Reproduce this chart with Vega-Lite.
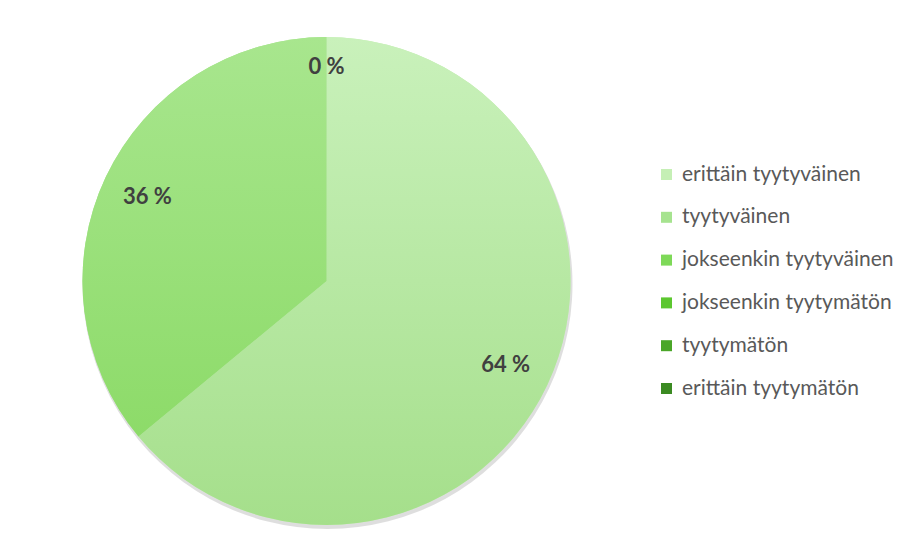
{
  "$schema": "https://vega.github.io/schema/vega-lite/v6.json",
  "width": 489,
  "height": 488,
  "autosize": {"type": "none"},
  "padding": {"left": 82, "top": 37, "right": 330, "bottom": 21},
  "background": "#ffffff",
  "config": {"view": {"stroke": null}},
  "data": {
    "values": [
      {"i": 1, "cat": "erittäin tyytyväinen", "v": 64, "lbl": "64 %"},
      {"i": 2, "cat": "tyytyväinen", "v": 36, "lbl": "36 %"},
      {"i": 3, "cat": "jokseenkin tyytyväinen", "v": 0, "lbl": "0 %"},
      {"i": 4, "cat": "jokseenkin tyytymätön", "v": 0, "lbl": "0 %"},
      {"i": 5, "cat": "tyytymätön", "v": 0, "lbl": "0 %"},
      {"i": 6, "cat": "erittäin tyytymätön", "v": 0, "lbl": "0 %"}
    ]
  },
  "encoding": {
    "theta": {"field": "v", "type": "quantitative", "stack": true},
    "order": {"field": "i", "type": "quantitative"}
  },
  "layer": [
    {
      "mark": {"type": "arc", "outerRadius": 245, "fill": "#000000", "fillOpacity": 0.13, "yOffset": 3, "xOffset": 1}
    },
    {
      "mark": {"type": "arc", "outerRadius": 244},
      "encoding": {
        "color": {
          "field": "cat",
          "type": "nominal",
          "sort": null,
          "scale": {
            "domain": ["erittäin tyytyväinen", "tyytyväinen", "jokseenkin tyytyväinen", "jokseenkin tyytymätön", "tyytymätön", "erittäin tyytymätön"],
            "range": ["#c5efb5", "#a6e38f", "#7ed958", "#5cc72f", "#4aa628", "#3b8a22"]
          },
          "legend": {
            "title": null,
            "orient": "none",
            "legendX": 574,
            "legendY": 127,
            "symbolType": "square",
            "symbolSize": 121,
            "symbolStrokeWidth": 0,
            "labelFont": "Lato",
            "labelFontSize": 21,
            "labelColor": "#595959",
            "labelOffset": 5,
            "rowPadding": 20.8,
            "labelLimit": 400
          }
        }
      }
    },
    {
      "mark": {"type": "arc", "outerRadius": 244},
      "encoding": {
        "fill": {
          "condition": {
            "test": "datum.i === 1",
            "value": {"gradient": "linear", "x1": 0, "y1": 0, "x2": 0, "y2": 1, "stops": [{"offset": 0, "color": "#c9f1bb"}, {"offset": 1, "color": "#a5df8b"}]}
          },
          "value": {"gradient": "linear", "x1": 0, "y1": 0, "x2": 0, "y2": 1, "stops": [{"offset": 0, "color": "#a8e68e"}, {"offset": 1, "color": "#8ddb69"}]}
        }
      }
    },
    {
      "mark": {"type": "text", "radius": 198, "font": "Lato", "fontWeight": "bold", "fontSize": 22, "fill": "#404040"},
      "encoding": {
        "text": {"condition": {"test": "datum.v > 0", "field": "lbl"}, "value": ""}
      }
    },
    {
      "mark": {"type": "text", "radius": 214, "font": "Lato", "fontWeight": "bold", "fontSize": 22, "fill": "#404040"},
      "encoding": {
        "text": {"condition": {"test": "datum.i === 3", "field": "lbl"}, "value": ""}
      }
    }
  ]
}
